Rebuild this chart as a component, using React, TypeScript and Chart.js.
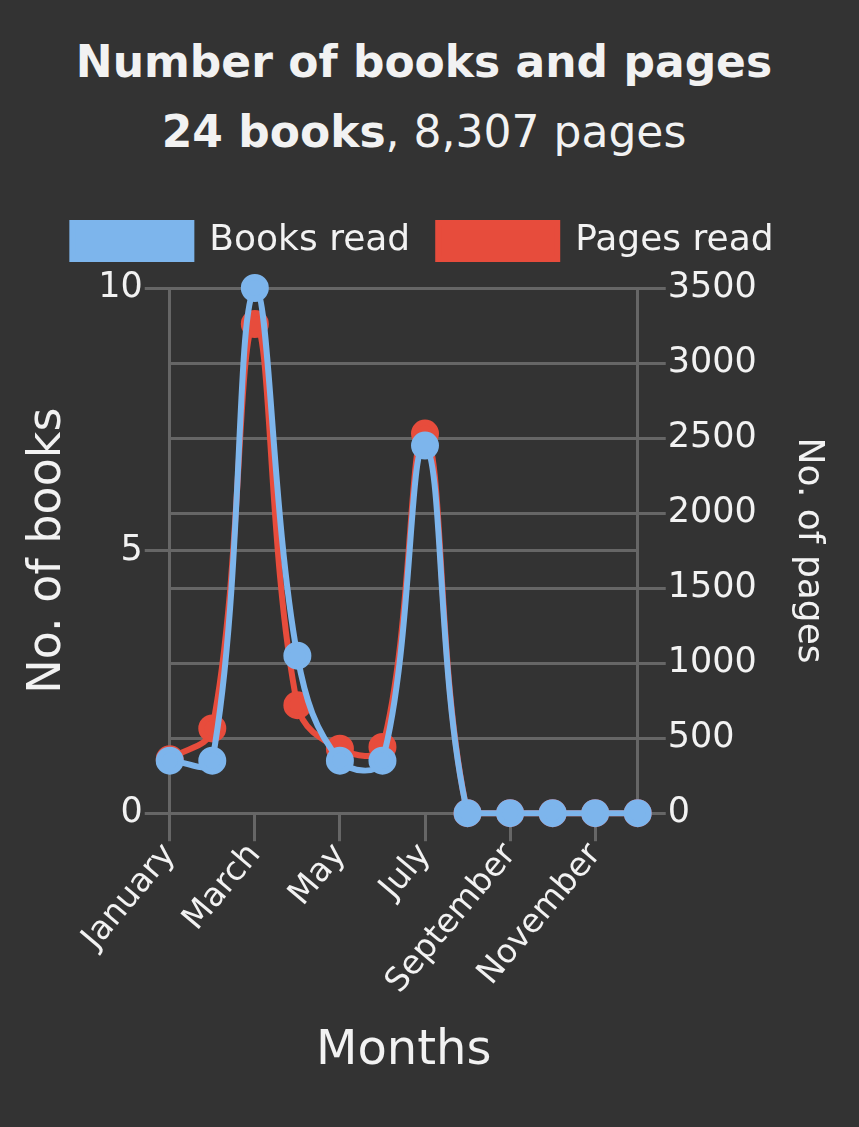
import React, { useEffect, useRef } from "react";
import { Chart, registerables } from "chart.js";

Chart.register(...registerables);

const MONTHS = [
  "January", "February", "March", "April", "May", "June",
  "July", "August", "September", "October", "November", "December",
];
const BOOKS_READ = [1, 1, 10, 3, 1, 1, 7, 0, 0, 0, 0, 0];
const PAGES_READ = [360, 565, 3260, 720, 430, 442, 2530, 0, 0, 0, 0, 0];
const BOOK_TICKS = [0, 5, 10];
const PAGE_TICKS = [0, 500, 1000, 1500, 2000, 2500, 3000, 3500];

const FONT = "'DejaVu Sans', sans-serif";
const BG = "#333333";
const TEXT = "#f2f2f2";
const GRID = "#666666";
const BLUE = "#7db5ec";
const RED = "#e74c3c";

const legendSpacer = {
  id: "legendSpacer",
  beforeInit(chart: any) {
    const orig = chart.legend.fit;
    chart.legend.fit = function () {
      orig.bind(this)();
      this.height += 19;
    };
  },
};

export default function App() {
  const ref = useRef<HTMLCanvasElement | null>(null);

  useEffect(() => {
    document.body.style.margin = "0";
    document.body.style.background = BG;
    const canvas = ref.current;
    if (!canvas) return;
    const chart = new Chart(canvas, {
      type: "line",
      plugins: [legendSpacer],
      data: {
        labels: MONTHS,
        datasets: [
          {
            label: "Books read",
            data: BOOKS_READ,
            yAxisID: "yBooks",
            borderColor: BLUE,
            backgroundColor: BLUE,
            pointBackgroundColor: BLUE,
            pointBorderColor: BLUE,
            borderWidth: 6,
            pointRadius: 11,
            tension: 0.4,
            clip: false,
          },
          {
            label: "Pages read",
            data: PAGES_READ,
            yAxisID: "yPages",
            borderColor: RED,
            backgroundColor: RED,
            pointBackgroundColor: RED,
            pointBorderColor: RED,
            borderWidth: 6,
            pointRadius: 11,
            tension: 0.4,
            clip: false,
          },
        ],
      },
      options: {
        responsive: false,
        animation: false,
        layout: { padding: { top: 15, left: 4, right: 6, bottom: 43 } },
        plugins: {
          legend: {
            position: "top",
            labels: {
              color: TEXT,
              font: { family: FONT, size: 36 },
              boxWidth: 119,
              boxHeight: 36,
              padding: 28,
            },
          },
          tooltip: { enabled: false },
        },
        scales: {
          x: {
            type: "category",
            grid: {
              drawOnChartArea: false,
              drawTicks: true,
              tickLength: 28,
              color: GRID,
              lineWidth: 3,
            },
            border: { display: false },
            ticks: {
              color: TEXT,
              font: { family: FONT, size: 33 },
              minRotation: 50,
              maxRotation: 50,
              autoSkip: false,
              padding: -5,
              callback: (_v: any, i: number) => (i % 2 === 0 ? MONTHS[i] : null),
            },
            title: {
              display: true,
              text: "Months",
              color: TEXT,
              font: { family: FONT, size: 48 },
              padding: { top: 26, bottom: 4 },
            },
          },
          yBooks: {
            type: "linear",
            position: "left",
            min: 0,
            max: 10,
            afterBuildTicks: (s: any) => {
              s.ticks = BOOK_TICKS.map((v) => ({ value: v }));
            },
            grid: { color: GRID, lineWidth: 3, tickLength: 25 },
            border: { display: true, color: GRID, width: 3 },
            ticks: {
              color: TEXT,
              font: { family: FONT, size: 35 },
              padding: 2,
              callback: (v: any) => String(v),
            },
            title: {
              display: true,
              text: "No. of books",
              color: TEXT,
              font: { family: FONT, size: 46 },
              padding: { top: 16, bottom: 21 },
            },
          },
          yPages: {
            type: "linear",
            position: "right",
            min: 0,
            max: 3500,
            afterBuildTicks: (s: any) => {
              s.ticks = PAGE_TICKS.map((v) => ({ value: v }));
            },
            grid: { color: GRID, lineWidth: 3, tickLength: 28 },
            border: { display: true, color: GRID, width: 3 },
            ticks: {
              color: TEXT,
              font: { family: FONT, size: 35 },
              padding: 2,
              callback: (v: any) => String(v),
            },
            title: {
              display: true,
              text: "No. of pages",
              color: TEXT,
              font: { family: FONT, size: 36 },
              padding: { top: 12, bottom: 28 },
            },
          },
        },
      },
    });
    return () => chart.destroy();
  }, []);

  return (
    <div style={{ width: 859, height: 1127, background: BG, fontFamily: FONT, color: TEXT }}>
      <div
        style={{
          width: 848,
          height: 180,
          boxSizing: "border-box",
          paddingTop: 27,
          textAlign: "center",
          fontSize: 44,
          lineHeight: "70px",
        }}
      >
        <div style={{ fontWeight: 700 }}>Number of books and pages</div>
        <div>
          <span style={{ fontWeight: 700 }}>24 books</span>, 8,307 pages
        </div>
      </div>
      <canvas ref={ref} width={848} height={947} style={{ display: "block" }} />
    </div>
  );
}
